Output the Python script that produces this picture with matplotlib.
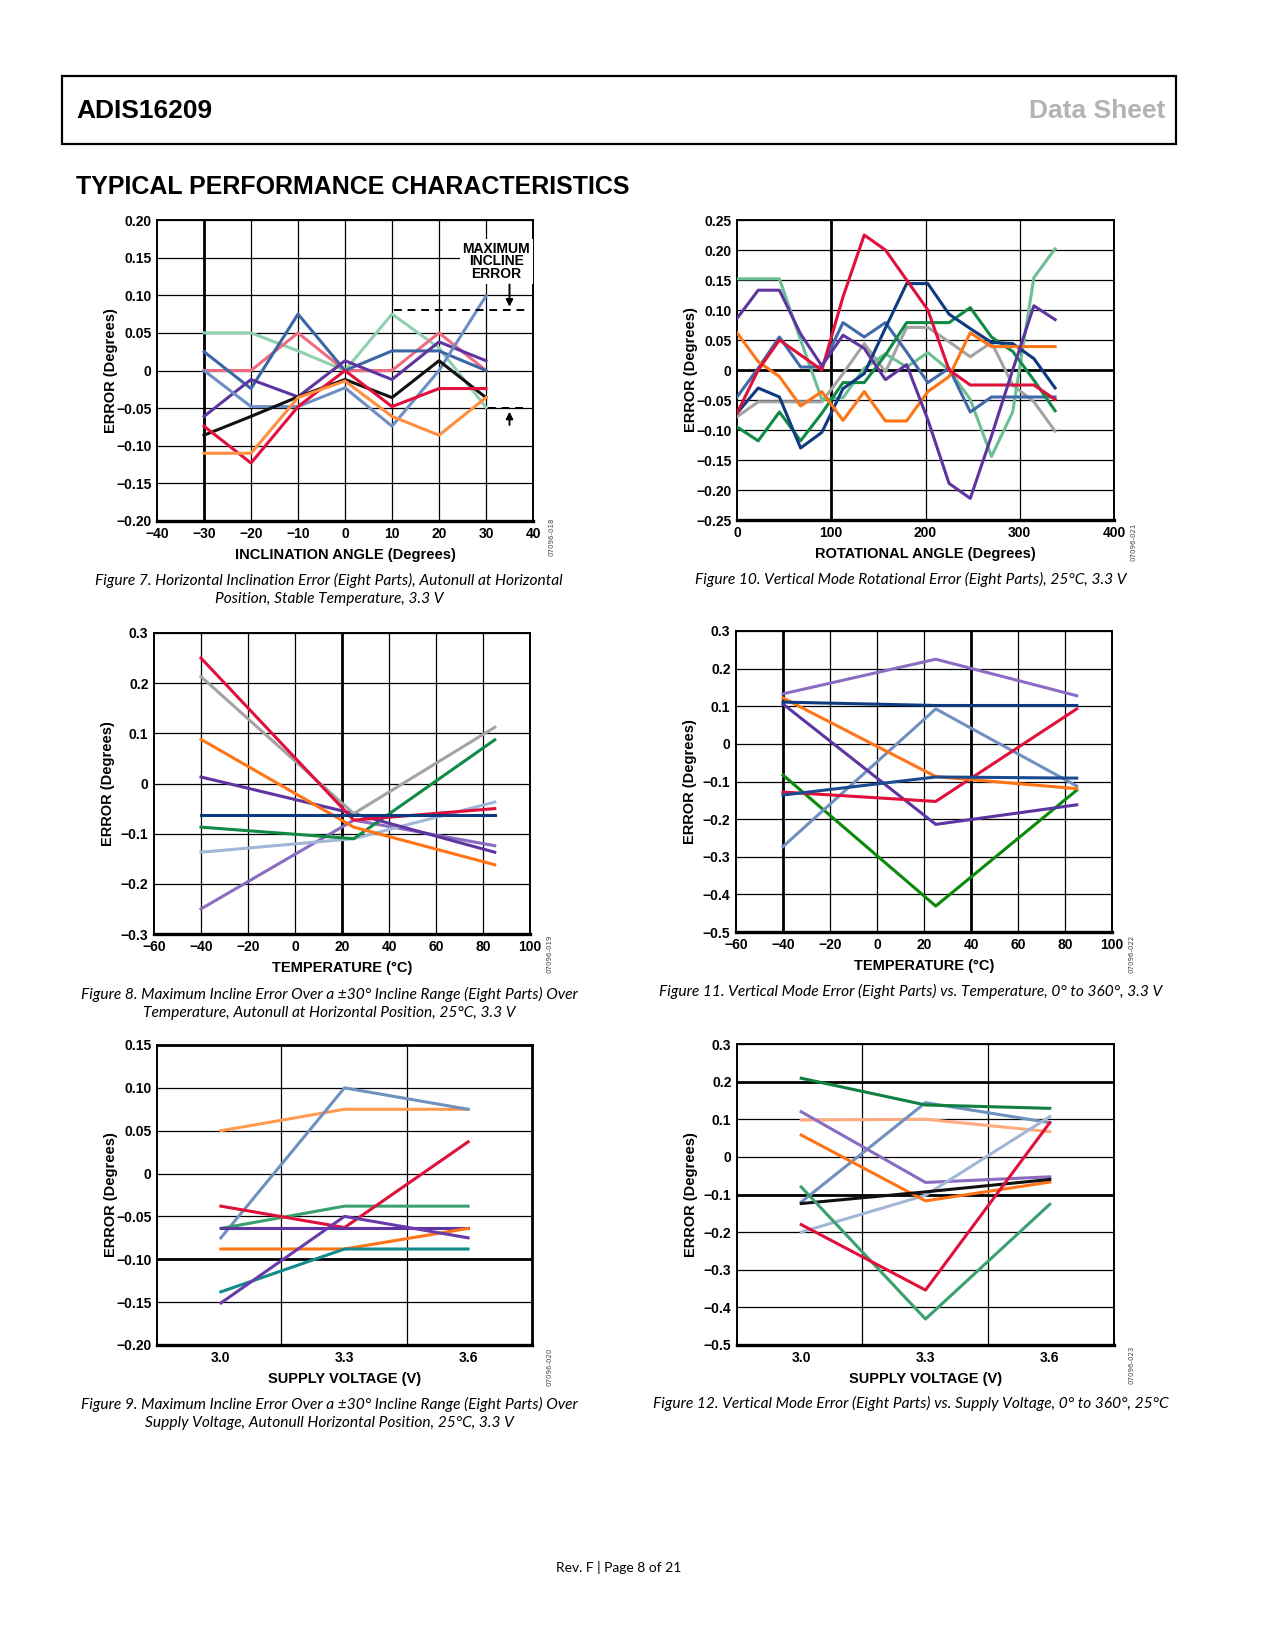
import matplotlib
matplotlib.use("Agg")
import matplotlib.pyplot as plt
from matplotlib.patches import Rectangle

W, H = 1275, 1650
NARROW = ['Liberation Sans Narrow', 'Liberation Sans', 'DejaVu Sans']
ITALIC = ['Lato', 'Open Sans', 'DejaVu Sans']

# ---- Figure 7: inclination error, autonull at horizontal
f7_x = [-30, -20, -10, 0, 10, 20, 30]
f7_mint = [0.05, 0.05, 0.026, 0.0, 0.075, 0.03, -0.049]
f7_pink = [0.0, 0.0, 0.05, 0.0, 0.0, 0.05, 0.0]
f7_steel = [0.025, -0.024, 0.075, 0.0, 0.026, 0.026, 0.0]
f7_purple = [-0.061, -0.012, -0.035, 0.013, -0.012, 0.038, 0.013]
f7_lightsteel = [0.0, -0.048, -0.048, -0.023, -0.074, 0.0, 0.099]
f7_black = [-0.086, -0.061, -0.035, -0.012, -0.036, 0.013, -0.036]
f7_red = [-0.074, -0.123, -0.048, 0.0, -0.048, -0.024, -0.024]
f7_orange = [-0.110, -0.110, -0.036, -0.014, -0.061, -0.086, -0.036]

# ---- Figure 10: rotational error
f10_x = [0, 22.5, 45, 67.5, 90, 112.5, 135, 157.5, 180, 202.5, 225, 247.5,
         270, 292.5, 315, 337.5]
f10_mint = [0.152, 0.152, 0.152, 0.05, -0.049, -0.046, 0.003, 0.027, 0.005,
            0.029, 0.0, -0.049, -0.144, -0.07, 0.154, 0.202]
f10_purple = [0.086, 0.133, 0.133, 0.06, 0.007, 0.058, 0.036, -0.016, 0.009,
              -0.083, -0.189, -0.214, -0.11, 0.0, 0.107, 0.084]
f10_red = [-0.072, 0.0, 0.05, 0.025, 0.0, 0.122, 0.225, 0.2, 0.15, 0.1, 0.0,
           -0.025, -0.025, -0.025, -0.025, -0.049]
f10_navy = [-0.072, -0.03, -0.045, -0.13, -0.104, -0.031, -0.006, 0.07, 0.144,
            0.144, 0.093, 0.069, 0.046, 0.044, 0.019, -0.03]
f10_steel = [-0.045, 0.003, 0.055, 0.005, 0.005, 0.079, 0.055, 0.079, 0.03,
             -0.021, 0.003, -0.07, -0.045, -0.045, -0.045, -0.045]
f10_green = [-0.095, -0.118, -0.07, -0.118, -0.072, -0.021, -0.021, 0.025,
             0.079, 0.079, 0.079, 0.104, 0.055, 0.031, -0.017, -0.068]
f10_gray = [-0.078, -0.053, -0.053, -0.053, -0.053, -0.006, 0.044, -0.003,
            0.071, 0.071, 0.047, 0.022, 0.046, -0.025, -0.053, -0.102]
f10_orange = [0.062, 0.014, -0.011, -0.06, -0.036, -0.084, -0.036, -0.085,
              -0.085, -0.036, -0.011, 0.062, 0.039, 0.039, 0.039, 0.039]

# ---- Figure 8: max incline error vs temperature
f8_x = [-40, 25, 85]
f8_red = [0.25, -0.073, -0.05]
f8_gray = [0.213, -0.06, 0.112]
f8_orange = [0.088, -0.087, -0.162]
f8_purple = [0.013, -0.06, -0.137]
f8_navy = [-0.062, -0.062, -0.062]
f8_green = [-0.087, -0.11, 0.087]
f8_paleblue = [-0.137, -0.11, -0.037]
f8_lavender = [-0.25, -0.073, -0.124]

# ---- Figure 11: vertical mode error vs temperature
f11_x = [-40, 25, 85]
f11_lavender = [0.133, 0.225, 0.128]
f11_navy = [0.111, 0.102, 0.102]
f11_orange = [0.122, -0.087, -0.119]
f11_purple = [0.106, -0.214, -0.162]
f11_steel = [-0.273, 0.093, -0.112]
f11_red = [-0.128, -0.153, 0.093]
f11_navy2 = [-0.136, -0.088, -0.091]
f11_green = [-0.083, -0.431, -0.123]

# ---- Figure 9: max incline error vs supply
f9_x = [3.0, 3.3, 3.6]
f9_steel = [-0.075, 0.1, 0.075]
f9_lightorange = [0.05, 0.075, 0.075]
f9_red = [-0.038, -0.063, 0.037]
f9_mint = [-0.064, -0.038, -0.038]
f9_purple = [-0.064, -0.064, -0.064]
f9_purple2 = [-0.151, -0.05, -0.075]
f9_orange = [-0.088, -0.088, -0.064]
f9_teal = [-0.138, -0.088, -0.088]

# ---- Figure 12: vertical mode error vs supply
f12_x = [3.0, 3.3, 3.6]
f12_green = [0.209, 0.138, 0.129]
f12_steel = [-0.12, 0.144, 0.091]
f12_peach = [0.098, 0.1, 0.067]
f12_lavender = [0.12, -0.068, -0.053]
f12_orange = [0.058, -0.117, -0.067]
f12_paleblue = [-0.2, -0.102, 0.107]
f12_black = [-0.124, -0.093, -0.06]
f12_red = [-0.18, -0.354, 0.091]
f12_mint = [-0.08, -0.431, -0.126]

captions = [
    (329, ["Figure 7. Horizontal Inclination Error (Eight Parts), Autonull at Horizontal",
           "Position, Stable Temperature, 3.3 V"], 580),
    (911, ["Figure 10. Vertical Mode Rotational Error (Eight Parts), 25°C, 3.3 V"], 579),
    (329, ["Figure 8. Maximum Incline Error Over a ±30° Incline Range (Eight Parts) Over",
           "Temperature, Autonull at Horizontal Position, 25°C, 3.3 V"], 994),
    (911, ["Figure 11. Vertical Mode Error (Eight Parts) vs. Temperature, 0° to 360°, 3.3 V"], 991),
    (329, ["Figure 9. Maximum Incline Error Over a ±30° Incline Range (Eight Parts) Over",
           "Supply Voltage, Autonull Horizontal Position, 25°C, 3.3 V"], 1404),
    (911, ["Figure 12. Vertical Mode Error (Eight Parts) vs. Supply Voltage, 0° to 360°, 25°C"], 1403),
]


def fmt(v, nd):
    if abs(v) < 1e-9:
        return "0"
    s = f"{abs(v):.{nd}f}"
    return ("\u2212" + s) if v < 0 else s


def add_axes_px(fig, x0, y0, x1, y1):
    return fig.add_axes([x0 / W, 1 - y1 / H, (x1 - x0) / W, (y1 - y0) / H])


def ftext(fig, x, y, s, **kw):
    fig.text(x / W, 1 - y / H, s, **kw)


def setup(ax, xlim, ylim, xticks, yticks, ynd, xlabel, vgrid, thick_v=(),
          thick_h=(), xlabels=None):
    ax.set_xlim(*xlim)
    ax.set_ylim(*ylim)
    ax.set_xticks(xticks)
    ax.set_yticks(yticks)
    if xlabels is None:
        xlabels = [fmt(v, 0) for v in xticks]
    ax.set_xticklabels(xlabels)
    ax.set_yticklabels([fmt(v, ynd) for v in yticks])
    for lab in ax.get_xticklabels() + ax.get_yticklabels():
        lab.set_family(NARROW)
        lab.set_weight("bold")
        lab.set_fontsize(10)
    ax.tick_params(length=0, pad=4)
    for v in vgrid:
        ax.axvline(v, color="black", lw=2.0 if v in thick_v else 0.9, zorder=1)
    for v in yticks:
        ax.axhline(v, color="black", lw=2.0 if v in thick_h else 0.9, zorder=1)
    for side in ax.spines:
        ax.spines[side].set_linewidth(1.4)
    ax.spines["bottom"].set_linewidth(2.4)
    ax.set_xlabel(xlabel, family=NARROW, weight="bold", fontsize=10.5)
    ax.set_ylabel("ERROR (Degrees)", family=NARROW, weight="bold", fontsize=10.5)
    ax.xaxis.set_label_coords(0.5, -27 / 300, transform=ax.transAxes)
    ax.yaxis.set_label_coords(-39 / 376, 0.5)


def main():
    fig = plt.figure(figsize=(W / 100, H / 100), dpi=100)

    # header
    fig.patches.append(Rectangle((62 / W, 1 - 144 / H), (1176 - 62) / W, 68 / H,
                                 transform=fig.transFigure, fill=False,
                                 lw=1.6, edgecolor="black"))
    ftext(fig, 76, 111, "ADIS16209", family=NARROW, weight="bold", fontsize=19,
          va="center", ha="left")
    ftext(fig, 1165, 111, "Data Sheet", family=NARROW, weight="bold", fontsize=19,
          va="center", ha="right", color="#b3b3b3")
    ftext(fig, 76, 187, "TYPICAL PERFORMANCE CHARACTERISTICS", family=NARROW,
          weight="bold", fontsize=18, va="center", ha="left")

    lw = 2.2

    # Figure 7
    ax = add_axes_px(fig, 157, 220, 533, 521)
    setup(ax, (-40, 40), (-0.20, 0.20), list(range(-40, 41, 10)),
          [0.20, 0.15, 0.10, 0.05, 0.0, -0.05, -0.10, -0.15, -0.20], 2,
          "INCLINATION ANGLE (Degrees)", list(range(-30, 31, 10)), thick_v=(-30,))
    for ys, c in [(f7_mint, "#8fd0ae"), (f7_pink, "#ef6c80"), (f7_steel, "#3b66a5"),
                  (f7_purple, "#5e35a0"), (f7_lightsteel, "#6f8fc4"),
                  (f7_black, "#111111"), (f7_red, "#e2103c"), (f7_orange, "#ff8f3f")]:
        ax.plot(f7_x, ys, color=c, lw=lw, zorder=3)
    ax.text(32.2, 0.145, "MAXIMUM\nINCLINE\nERROR", family=NARROW, weight="bold",
            fontsize=10, ha="center", va="center", linespacing=0.85, zorder=4,
            bbox=dict(facecolor="white", edgecolor="none", pad=2))
    ax.plot([10.5, 39], [0.08, 0.08], color="black", ls=(0, (4, 3)), lw=1.4, zorder=4)
    ax.plot([30.5, 39], [-0.05, -0.05], color="black", ls=(0, (4, 3)), lw=1.4, zorder=4)
    ax.annotate("", xy=(35, 0.081), xytext=(35, 0.118),
                arrowprops=dict(arrowstyle="-|>", color="black", lw=1.4,
                                mutation_scale=10), zorder=5)
    ax.annotate("", xy=(35, -0.051), xytext=(35, -0.076),
                arrowprops=dict(arrowstyle="-|>", color="black", lw=1.4,
                                mutation_scale=10), zorder=5)

    # Figure 10
    ax = add_axes_px(fig, 737, 220, 1114, 520)
    setup(ax, (0, 400), (-0.25, 0.25), [0, 100, 200, 300, 400],
          [0.25, 0.20, 0.15, 0.10, 0.05, 0.0, -0.05, -0.10, -0.15, -0.20, -0.25], 2,
          "ROTATIONAL ANGLE (Degrees)", [100, 200, 300], thick_v=(100,),
          thick_h=(0.0,))
    for ys, c in [(f10_gray, "#a3a3a3"), (f10_mint, "#6cbf94"), (f10_steel, "#3f6aa8"),
                  (f10_green, "#118a45"), (f10_navy, "#0e3a80"), (f10_orange, "#ff7415"),
                  (f10_red, "#e0103c"), (f10_purple, "#5e35a0")]:
        ax.plot(f10_x, ys, color=c, lw=lw, zorder=3)

    # Figure 8
    ax = add_axes_px(fig, 154, 633, 530, 934)
    setup(ax, (-60, 100), (-0.3, 0.3), list(range(-60, 101, 20)),
          [0.3, 0.2, 0.1, 0.0, -0.1, -0.2, -0.3], 1, "TEMPERATURE (°C)",
          list(range(-40, 81, 20)), thick_v=(20,))
    for ys, c in [(f8_lavender, "#8a6cc0"), (f8_paleblue, "#a3b6d6"),
                  (f8_green, "#118a45"), (f8_purple, "#5e35a0"), (f8_orange, "#ff7415"),
                  (f8_gray, "#a3a3a3"), (f8_red, "#e0103c"), (f8_navy, "#0e3a80")]:
        ax.plot(f8_x, ys, color=c, lw=lw, zorder=3)

    # Figure 11
    ax = add_axes_px(fig, 736, 631, 1112, 932)
    setup(ax, (-60, 100), (-0.5, 0.3), list(range(-60, 101, 20)),
          [0.3, 0.2, 0.1, 0.0, -0.1, -0.2, -0.3, -0.4, -0.5], 1, "TEMPERATURE (°C)",
          list(range(-40, 81, 20)), thick_v=(-40, 40))
    for ys, c in [(f11_green, "#0a8a0a"), (f11_steel, "#7090c0"),
                  (f11_purple, "#5e35a0"), (f11_red, "#e0103c"),
                  (f11_orange, "#ff7415"), (f11_navy2, "#1c4a90"),
                  (f11_lavender, "#8a6cc0"), (f11_navy, "#0e3a80")]:
        ax.plot(f11_x, ys, color=c, lw=lw, zorder=3)

    # Figure 9
    ax = add_axes_px(fig, 157, 1045, 532, 1345)
    setup(ax, (2.845, 3.755), (-0.20, 0.15), f9_x,
          [0.15, 0.10, 0.05, 0.0, -0.05, -0.10, -0.15, -0.20], 2,
          "SUPPLY VOLTAGE (V)", [3.147, 3.451], thick_h=(-0.10,),
          xlabels=["3.0", "3.3", "3.6"])
    ax.spines["top"].set_linewidth(2.0)
    ax.spines["right"].set_linewidth(2.0)
    for ys, c in [(f9_lightorange, "#ff9a50"), (f9_steel, "#7090c0"),
                  (f9_mint, "#3aa070"), (f9_red, "#e0103c"), (f9_purple, "#5e35a0"),
                  (f9_orange, "#ff7415"), (f9_teal, "#138a8a"),
                  (f9_purple2, "#6a3aaa")]:
        ax.plot(f9_x, ys, color=c, lw=lw, zorder=3)

    # Figure 12
    ax = add_axes_px(fig, 737, 1044, 1114, 1345)
    setup(ax, (2.845, 3.755), (-0.5, 0.3), f12_x,
          [0.3, 0.2, 0.1, 0.0, -0.1, -0.2, -0.3, -0.4, -0.5], 1,
          "SUPPLY VOLTAGE (V)", [3.147, 3.451], thick_h=(0.2, -0.1),
          xlabels=["3.0", "3.3", "3.6"])
    for ys, c in [(f12_peach, "#ffaa80"), (f12_steel, "#7090c0"),
                  (f12_green, "#108040"), (f12_lavender, "#8a6cc0"),
                  (f12_paleblue, "#a3b6d6"), (f12_orange, "#ff7415"),
                  (f12_black, "#111111"), (f12_mint, "#3aa070"),
                  (f12_red, "#e0103c")]:
        ax.plot(f12_x, ys, color=c, lw=lw, zorder=3)

    # small figure ids
    for x, y, s in [(551, 537, "07096-018"), (1134, 542, "07096-021"),
                    (549, 954, "07096-019"), (1132, 954, "07096-022"),
                    (549, 1367, "07096-020"), (1131, 1365, "07096-023")]:
        ftext(fig, x, y, s, fontsize=5, rotation=90, ha="center", va="center",
              color="#444444")

    for cx, lines, y0 in captions:
        for i, line in enumerate(lines):
            ftext(fig, cx, y0 + 19 * i, line, family=ITALIC, style="italic",
                  fontsize=11.2, ha="center", va="center")

    ftext(fig, 619, 1567, "Rev. F | Page 8 of 21", family=ITALIC, fontsize=10,
          ha="center", va="center")

    fig.savefig("out.png", dpi=100)


if __name__ == "__main__":
    main()
